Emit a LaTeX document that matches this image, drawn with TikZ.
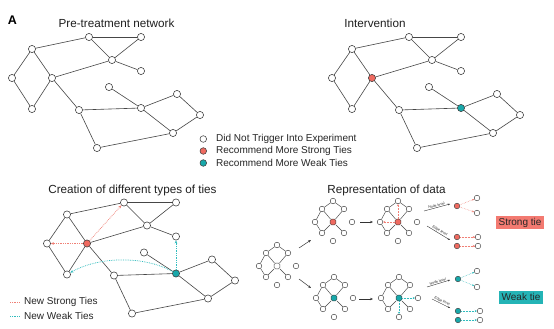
\documentclass[tikz,border=0pt]{standalone}
\usepackage{fontspec}
\setmainfont{Liberation Sans}
\usetikzlibrary{arrows.meta}
\definecolor{nodered}{RGB}{239,106,96}
\definecolor{nodeteal}{RGB}{24,168,170}
\definecolor{dotred}{RGB}{240,128,118}
\definecolor{dotteal}{RGB}{50,188,190}
\definecolor{boxred}{RGB}{243,122,113}
\definecolor{boxteal}{RGB}{36,180,182}
\definecolor{edgegray}{RGB}{70,70,70}
\newcommand{\BigNet}[3]{%
  \node[nd]   (#1n1)  at (32,49)  {};
  \node[nd]   (#1n2)  at (89,37)  {};
  \node[nd]   (#1n3)  at (141,37) {};
  \node[nd]   (#1n4)  at (112,60) {};
  \node[nd]   (#1n5)  at (141,71) {};
  \node[nd]   (#1n6)  at (12,78)  {};
  \node[#2]   (#1n7)  at (52,78)  {};
  \node[nd]   (#1n8)  at (32,109) {};
  \node[nd]   (#1n9)  at (79,110) {};
  \node[nd]   (#1n10) at (109,87) {};
  \node[#3]   (#1n11) at (141,108) {};
  \node[nd]   (#1n12) at (177,94) {};
  \node[nd]   (#1n13) at (200,115) {};
  \node[nd]   (#1n14) at (173,133) {};
  \node[nd]   (#1n15) at (97,148) {};
  \foreach \a/\b in {1/2,2/3,2/4,3/4,4/5,4/7,1/6,1/7,6/8,7/8,7/9,9/11,9/15,15/14,10/11,11/12,11/14,12/13,13/14}
    \draw[edge] (#1n\a) -- (#1n\b);
}
\newcommand{\SmallNet}[2]{%
  \node[sn]  (#1t)  at (0,-21)  {};
  \node[sn]  (#1ul) at (-11,-13) {};
  \node[sn]  (#1ur) at (11,-13) {};
  \node[sn]  (#1l)  at (-18,0)  {};
  \node[#2]  (#1c)  at (0,0)    {};
  \node[sn]  (#1ll) at (-11,11) {};
  \node[sn]  (#1lr) at (11,11)  {};
  \node[sn]  (#1ir) at (19,0)   {};
  \node[sn]  (#1ib) at (0,19)   {};
  \foreach \a/\b in {t/ul,t/ur,ul/l,ul/c,ur/c,l/ll,c/ll,c/lr}
    \draw[sedge] (#1\a) -- (#1\b);
}
\begin{document}
\begin{tikzpicture}[x=1pt,y=-1pt,
  edge/.style={draw=edgegray, line width=0.6pt},
  sedge/.style={draw=edgegray, line width=0.45pt},
  nd/.style={circle, draw=black!75, fill=white, inner sep=0pt, minimum size=7.2pt, line width=0.55pt},
  ndr/.style={nd, fill=nodered},
  ndt/.style={nd, fill=nodeteal},
  sn/.style={circle, draw=black!75, fill=white, inner sep=0pt, minimum size=5.6pt, line width=0.45pt},
  snc/.style={rectangle, rounded corners=1.2pt, draw=black!75, fill=white, inner sep=0pt, minimum size=5.6pt, line width=0.45pt},
  sncr/.style={snc, fill=nodered},
  snct/.style={snc, fill=nodeteal},
  snr/.style={sn, fill=nodered},
  snt/.style={sn, fill=nodeteal},
  title/.style={font=\fontsize{11.7}{14}\selectfont, text=black!88},
  legtext/.style={font=\fontsize{10}{12}\selectfont, anchor=west, text=black!85, inner sep=0pt},
  tinytext/.style={font=\fontsize{3.6}{4}\selectfont, inner sep=0.6pt, text=black!80},
  reddot/.style={draw=dotred, densely dotted, line width=0.75pt, -{Stealth[length=3pt,width=2.6pt]}},
  tealdot/.style={draw=dotteal, densely dotted, line width=0.75pt, -{Stealth[length=3pt,width=2.6pt]}},
  reddots/.style={draw=dotred, densely dotted, line width=0.5pt, -{Stealth[length=2.2pt,width=2pt]}},
  tealdots/.style={draw=dotteal, densely dotted, line width=0.5pt, -{Stealth[length=2.2pt,width=2pt]}},
  flow/.style={draw=black!80, line width=0.5pt, -{Stealth[length=3pt,width=2.4pt]}},
  lowflow/.style={draw=black!80, line width=0.4pt, -{Stealth[length=2.2pt,width=1.8pt]}},
  tiebox/.style={font=\fontsize{10}{12}\selectfont, text=black!85, minimum height=13pt, inner xsep=2.6pt, inner ysep=0pt}
]
\useasboundingbox[fill=white] (0,0) rectangle (554,329);

% panel label
\node[font=\bfseries\fontsize{12.5}{14}\selectfont] (lblA) at (12.5,20.5) {A};

% titles
\node[title] (t1) at (116.5,23) {Pre-treatment network};
\node[title] (t2) at (375,23) {Intervention};
\node[title] (t3) at (132.5,190) {Creation of different types of ties};
\node[title] (t4) at (386.5,190) {Representation of data};

% networks
\BigNet{p}{nd}{nd}
\begin{scope}[shift={(320,0)}]
  \BigNet{i}{ndr}{ndt}
\end{scope}
\begin{scope}[shift={(35,165.5)}]
  \BigNet{c}{ndr}{ndt}
\end{scope}

% new ties
\draw[reddot] (cn7) -- (cn2);
\draw[reddot] (cn7) -- (cn6);
\draw[tealdot] (cn11) -- (cn5);
\draw[tealdot] (cn11) .. controls (145,256) and (100,256) .. (cn8);

% legend top
\node[nd, minimum size=6.6pt] (lg1) at (203.3,139) {};
\node[ndr, minimum size=6.6pt] (lg2) at (203.3,151) {};
\node[ndt, minimum size=6.6pt] (lg3) at (203.3,163) {};
\node[legtext] (lt1) at (216,139) {Did Not Trigger Into Experiment};
\node[legtext] (lt2) at (216,151) {Recommend More Strong Ties};
\node[legtext] (lt3) at (216,163) {Recommend More Weak Ties};

% legend bottom
\coordinate (ls1) at (10,302);
\coordinate (lw1) at (10,316);
\node[legtext] (lgs) at (24,302) {New Strong Ties};
\node[legtext] (lgw) at (24,316) {New Weak Ties};
\draw[draw=dotred, densely dotted, line width=0.75pt] (ls1) -- ([xshift=-4pt]lgs.west);
\draw[draw=dotteal, densely dotted, line width=0.75pt] (lw1) -- ([xshift=-4pt]lgw.west);

% small networks
\begin{scope}[shift={(277,266)}]
  \SmallNet{s0}{snc}
\end{scope}
\begin{scope}[shift={(333,222)}]
  \SmallNet{r1}{sncr}
\end{scope}
\begin{scope}[shift={(398,222)}]
  \SmallNet{r2}{sncr}
\end{scope}
\begin{scope}[shift={(334,298)}]
  \SmallNet{g1}{snct}
\end{scope}
\begin{scope}[shift={(399,298)}]
  \SmallNet{g2}{snct}
\end{scope}
\draw[reddots] (r2c) -- (r2t);
\draw[reddots] (r2c) -- (r2l);
\draw[tealdots] (g2c) -- (g2ir);
\draw[tealdots] (g2c) -- (g2ib);

% flow arrows
\coordinate (fa1) at (299,248); \coordinate (fa2) at (311,240);
\coordinate (fb1) at (299,279); \coordinate (fb2) at (311,288);
\coordinate (fc1) at (360,222); \coordinate (fc2) at (373,222);
\coordinate (fd1) at (359,299); \coordinate (fd2) at (373,299);
\draw[flow] (fa1) -- (fa2);
\draw[flow] (fb1) -- (fb2);
\draw[flow] (fc1) -- (fc2);
\draw[flow] (fd1) -- (fd2);

% node / edge level (strong)
\coordinate (rns) at (424,211); \coordinate (rne) at (450,204);
\draw[lowflow] (rns) -- (rne) node[midway, above, sloped, tinytext] {Node level};
\node[snr] (rn) at (457,206) {};
\node[sn] (rna) at (477,198) {};
\node[sn] (rnb) at (477,213) {};
\draw[reddots] (rn) -- (rna);
\draw[reddots] (rn) -- (rnb);
\coordinate (res) at (427,226); \coordinate (ree) at (450,240);
\draw[lowflow] (res) -- (ree) node[midway, above, sloped, tinytext] {Edge level};
\node[snr] (re1) at (457,237) {};
\node[snr] (re2) at (457,246) {};
\node[sn] (re1b) at (478,237) {};
\node[sn] (re2b) at (478,246) {};
\draw[reddots] (re1) -- (re1b);
\draw[reddots] (re2) -- (re2b);

% node / edge level (weak)
\coordinate (gns) at (427,287); \coordinate (gne) at (450,280);
\draw[lowflow] (gns) -- (gne) node[midway, above, sloped, tinytext] {Node level};
\node[snt] (gn) at (458,279) {};
\node[sn] (gna) at (477,271) {};
\node[sn] (gnb) at (477,287) {};
\draw[tealdots] (gn) -- (gna);
\draw[tealdots] (gn) -- (gnb);
\coordinate (ges) at (432,299); \coordinate (gee) at (450,308);
\draw[lowflow] (ges) -- (gee) node[midway, above, sloped, tinytext] {Edge level};
\node[snt] (ge1) at (458,311) {};
\node[snt] (ge2) at (458,320) {};
\node[sn] (ge1b) at (480,311) {};
\node[sn] (ge2b) at (480,320) {};
\draw[tealdots] (ge1) -- (ge1b);
\draw[tealdots] (ge2) -- (ge2b);

% tie boxes
\node[tiebox, fill=boxred] (bs) at (520,222.5) {Strong tie};
\node[tiebox, fill=boxteal] (bw) at (521,297) {Weak tie};
\end{tikzpicture}
\end{document}
